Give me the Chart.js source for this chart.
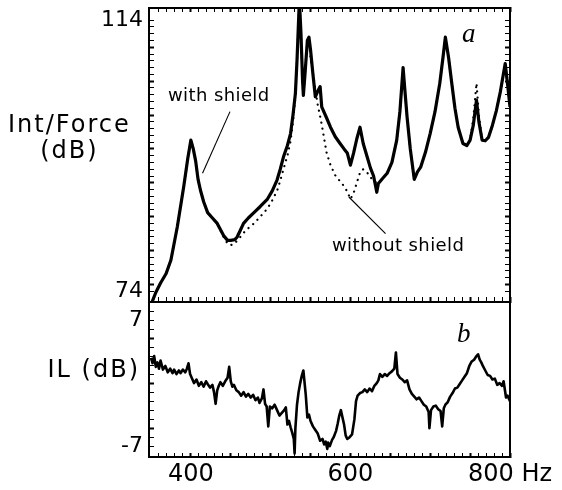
<!DOCTYPE html>
<html>
<head>
<meta charset="utf-8">
<script src="https://cdn.jsdelivr.net/npm/chart.js@4.4.1/dist/chart.umd.min.js"></script>
<style>
  body { margin: 0; background: #fff; }
  #wrap { position: relative; width: 562px; height: 490px; overflow: hidden; font-family: "DejaVu Sans", sans-serif; color: #000; }
  #wrap canvas { position: absolute; left: 0; top: 0; }
  .lbl { position: absolute; white-space: nowrap; line-height: 1; }
  .ttl { font-size: 24px; letter-spacing: 2px; line-height: 26px; text-align: center; }
  .note { font-size: 18px; letter-spacing: 0.4px; }
  .tag { font-family: "Liberation Serif", serif; font-style: italic; font-size: 27px; }
</style>
</head>
<body>
<div id="wrap">
  <canvas id="chart-a" width="562" height="310"></canvas>
  <canvas id="chart-b" width="562" height="490"></canvas>
  <div class="lbl ttl" style="left:8px; top:111px;">Int/Force<br>(dB)</div>
  <div class="lbl ttl" style="right:422px; top:356px;">IL (dB)</div>
  <div class="lbl note" style="left:168px; top:86px;">with shield</div>
  <div class="lbl note" style="left:332px; top:236px;">without shield</div>
  <div class="lbl tag" style="left:462px; top:20px;">a</div>
  <div class="lbl tag" style="left:457px; top:320px;">b</div>
</div>
<script>
// ── Data ───────────────────────────────────────────
const freqA = [350, 356, 362, 369, 375, 383, 391, 396, 400, 403, 406, 409, 412, 416, 421, 427, 433, 441, 446, 450,
  455, 458, 462, 466, 472, 479, 487, 496, 502, 508, 512, 516, 521, 525, 528, 531, 533, 534, 536, 538,
  540, 541, 543, 546, 548, 550, 553, 556, 559, 562, 564, 570, 575, 581, 587, 592, 596, 600, 604, 608,
  612, 616, 621, 625, 629, 633, 635, 640, 646, 652, 658, 662, 666, 668, 671, 675, 680, 684, 688, 694,
  700, 706, 712, 716, 719, 723, 727, 731, 735, 741, 746, 750, 754, 758, 761, 765, 769, 773, 778, 783,
  788, 794, 797, 800];

const withShield = [72.0, 73.8, 75.2, 76.6, 78.6, 83.5, 89.4, 93.5, 96.3, 95.0, 93.2, 90.5, 88.9, 87.2, 85.6, 84.8, 84.0, 82.2, 81.5, 81.5,
  81.6, 82.0, 83.0, 84.0, 84.8, 85.6, 86.5, 87.6, 88.8, 90.4, 92.0, 93.8, 95.5, 97.3, 100.0, 103.2, 108.0, 111.0, 117.0, 112.0,
  105.0, 102.9, 106.0, 111.0, 111.5, 109.6, 106.0, 102.7, 103.5, 104.2, 101.2, 99.6, 98.2, 96.8, 95.8, 95.0, 94.4, 92.6, 94.4, 96.5,
  98.2, 95.8, 93.8, 92.2, 91.0, 88.6, 89.9, 90.6, 91.4, 93.0, 96.3, 100.5, 107.0, 104.0, 99.7, 95.0, 90.5, 91.6, 92.3, 94.5,
  97.3, 100.5, 104.7, 108.5, 111.5, 108.5, 104.7, 101.0, 98.2, 95.8, 95.5, 96.3, 98.5, 102.2, 99.0, 96.3, 96.2, 96.7, 98.5, 100.7,
  103.5, 107.6, 104.5, 101.2];

const withoutShield = [72.0, 73.8, 75.2, 76.6, 78.6, 83.5, 89.4, 93.5, 96.3, 95.0, 93.2, 90.5, 88.9, 87.2, 85.6, 84.8, 84.0, 82.0, 81.0, 80.8,
  81.0, 81.5, 82.0, 82.6, 83.3, 84.0, 85.0, 86.2, 87.4, 88.8, 90.3, 92.0, 94.0, 96.2, 99.0, 102.8, 108.0, 111.0, 117.0, 112.0,
  105.0, 102.9, 106.0, 111.0, 111.0, 108.5, 106.2, 103.8, 101.5, 99.8, 98.6, 94.5, 92.6, 91.1, 90.2, 89.5, 88.7, 87.6, 88.5, 90.0,
  91.5, 92.0, 91.5, 90.8, 90.4, 89.9, 89.9, 90.6, 91.4, 93.0, 96.3, 100.5, 107.0, 104.0, 99.7, 95.0, 90.5, 91.6, 92.3, 94.5,
  97.3, 100.5, 104.7, 108.5, 111.5, 108.5, 104.7, 101.0, 98.2, 95.8, 95.5, 96.3, 99.5, 104.7, 100.0, 96.3, 96.2, 96.7, 98.5, 100.7,
  103.5, 107.6, 104.5, 101.2];

const freqB = [350, 352, 354, 356, 358, 360, 362, 365, 368, 371, 374, 377, 379, 382, 385, 387, 390, 393, 395, 397,
  399, 401, 404, 407, 410, 413, 416, 419, 421, 424, 427, 429, 431, 433, 435, 437, 440, 443, 446, 448,
  450, 452, 454, 457, 460, 463, 466, 469, 472, 475, 478, 481, 484, 486, 489, 491, 493, 495, 497, 499,
  502, 505, 508, 511, 514, 517, 519, 521, 523, 525, 527, 529, 530, 531, 533, 535, 537, 539, 541, 542,
  544, 546, 548, 550, 553, 556, 559, 562, 565, 567, 569, 571, 572, 574, 577, 579, 582, 584, 586, 588,
  590, 592, 594, 596, 599, 602, 605, 607, 609, 612, 615, 618, 621, 624, 627, 630, 633, 635, 637, 640,
  643, 646, 649, 652, 655, 657, 659, 662, 665, 668, 671, 674, 677, 680, 683, 686, 689, 692, 695, 698,
  699, 701, 704, 707, 710, 713, 715, 717, 719, 722, 725, 728, 731, 734, 737, 740, 743, 746, 749, 752,
  755, 758, 760, 762, 764, 766, 769, 772, 775, 778, 781, 784, 787, 790, 792, 795, 797, 800];

const insertionLoss = [2.8, 2.2, 3.0, 1.8, 2.3, 1.6, 2.5, 1.5, 1.9, 1.2, 1.6, 1.1, 1.5, 1.0, 1.4, 1.1, 1.5, 1.2, 1.6, 2.2,
  1.0, 0.6, 0.0, 0.4, -0.3, 0.1, -0.4, 0.2, -0.1, -0.5, -0.2, -1.0, -2.3, -0.8, -0.3, 0.1, -0.3, 0.2, 0.6, 1.8,
  0.2, -0.4, -0.2, -0.8, -1.0, -1.4, -1.0, -1.5, -1.2, -1.6, -1.3, -1.9, -1.6, -2.2, -1.7, -0.7, -2.3, -2.6, -4.8, -2.6,
  -2.8, -2.4, -3.0, -3.6, -3.3, -3.0, -2.7, -4.6, -4.2, -4.9, -5.5, -6.2, -7.8, -5.0, -2.4, -1.0, 0.0, 0.8, 1.4, 0.5,
  -1.3, -3.8, -3.5, -4.2, -4.8, -5.2, -5.6, -6.4, -6.2, -6.8, -6.5, -7.3, -6.6, -7.0, -6.3, -6.0, -5.3, -4.5, -3.6, -3.0,
  -3.8, -4.6, -5.8, -6.2, -6.0, -5.7, -4.0, -2.0, -1.4, -1.1, -1.0, -0.7, -1.0, -0.6, -0.9, -0.3, 0.0, 0.3, 1.0, 0.7,
  1.0, 0.8, 1.1, 1.3, 1.6, 3.4, 1.0, 0.6, 0.4, 0.1, 0.3, -0.7, -1.2, -1.5, -1.8, -1.6, -2.0, -2.4, -2.6, -3.2,
  -5.0, -3.0, -2.6, -2.5, -2.9, -3.1, -4.8, -2.8, -2.4, -2.1, -1.5, -1.1, -0.6, -0.5, -0.1, 0.3, 0.7, 1.1, 1.9, 2.4,
  2.6, 3.0, 3.2, 2.6, 2.3, 1.9, 1.4, 0.9, 0.8, 0.4, 0.5, -0.2, 0.0, -0.3, 0.2, -1.6, -1.4, -2.0];

// annotation leader lines (Hz, dB)
const leaderWithX    = [449, 414.6];
const leaderWithY    = [100.5, 91.4];
const leaderWithoutX = [598, 644];
const leaderWithoutY = [87.9, 82.5];

// tick labels
const yLabelsA   = [74, 114];
const yLabelsB   = [7, -7];
const xLabelVals = [400, 600, 800];
const xLabelText = ['400', '600', '800 Hz'];

// ── Shared helpers ─────────────────────────────────
const FONT = "'DejaVu Sans', sans-serif";
const pts = (xs, ys) => xs.map((x, i) => ({ x, y: ys[i] }));

// fixed box size, no auto padding for overflowing end labels
const fixW = w => s => { s.width = w; s.paddingTop = 0; s.paddingBottom = 0; };
const fixH = h => s => { s.height = h; s.paddingLeft = 0; s.paddingRight = 0; };

function frameAxis(extra) {
  return Object.assign({
    border: { display: true, color: '#000', width: 2 },
    grid: { drawOnChartArea: false, drawTicks: true, tickLength: -5, tickColor: '#000',
            tickWidth: c => (c.tick && c.tick.value % 5 === 0 ? 2 : 1) },
    ticks: { autoSkip: false, stepSize: 1, callback: () => '', color: '#000', font: { family: FONT, size: 22 } },
  }, extra);
}

const xRange = { min: 347.5, max: 800 };
const xTickW = c => (c.tick && c.tick.value % 50 === 0 ? 2 : 1);

// ── Panel a ────────────────────────────────────────
new Chart(document.getElementById('chart-a'), {
  type: 'line',
  data: {
    datasets: [
      { data: pts(freqA, withShield), borderColor: '#000', borderWidth: 3.2, pointRadius: 0, tension: 0,
        borderJoinStyle: 'round', xAxisID: 'x', yAxisID: 'y' },
      { data: pts(freqA, withoutShield), borderColor: '#000', borderWidth: 2.2, pointRadius: 0, tension: 0,
        borderDash: [0.1, 6], borderCapStyle: 'round', xAxisID: 'x', yAxisID: 'y' },
      { data: pts(leaderWithX, leaderWithY), borderColor: '#000', borderWidth: 1.1, pointRadius: 0, xAxisID: 'x', yAxisID: 'y' },
      { data: pts(leaderWithoutX, leaderWithoutY), borderColor: '#000', borderWidth: 1.1, pointRadius: 0, xAxisID: 'x', yAxisID: 'y' },
    ],
  },
  options: {
    responsive: false,
    animation: false,
    events: [],
    layout: { padding: { left: 0, top: 8, right: 52, bottom: 0 } },
    plugins: { legend: { display: false }, tooltip: { enabled: false } },
    scales: {
      x: frameAxis({ type: 'linear', position: 'bottom', ...xRange,
        grid: { drawOnChartArea: false, tickLength: -5, tickColor: '#000', tickWidth: xTickW },
        ticks: { autoSkip: false, stepSize: 10, callback: () => '' },
        afterFit: fixH(8) }),
      xTop: frameAxis({ type: 'linear', position: 'top', ...xRange,
        grid: { drawOnChartArea: false, tickLength: -4, tickColor: '#000', tickWidth: xTickW },
        ticks: { autoSkip: false, stepSize: 10, callback: () => '' },
        afterFit: fixH(0) }),
      y: frameAxis({ type: 'linear', position: 'left', min: 72.4, max: 115.8,
        ticks: { autoSkip: false, stepSize: 1, padding: 11, color: '#000', font: { family: FONT, size: 22 },
                 callback: v => (yLabelsA.includes(v) ? String(v) : '') },
        afterFit: fixW(149) }),
      yRight: frameAxis({ type: 'linear', position: 'right', min: 72.4, max: 115.8,
        afterFit: fixW(0) }),
    },
  },
});

// ── Panel b ────────────────────────────────────────
new Chart(document.getElementById('chart-b'), {
  type: 'line',
  data: {
    datasets: [
      { data: pts(freqB, insertionLoss), borderColor: '#000', borderWidth: 2.6, pointRadius: 0, tension: 0,
        borderJoinStyle: 'round', xAxisID: 'x', yAxisID: 'y' },
    ],
  },
  options: {
    responsive: false,
    animation: false,
    events: [],
    layout: { padding: { left: 0, top: 302, right: 52, bottom: 0 } },
    plugins: { legend: { display: false }, tooltip: { enabled: false } },
    scales: {
      x: frameAxis({ type: 'linear', position: 'bottom', ...xRange,
        grid: { drawOnChartArea: false, tickLength: -4, tickColor: '#000', tickWidth: xTickW },
        ticks: { autoSkip: false, maxRotation: 0, stepSize: 10, padding: 7, color: '#000', font: { family: FONT, size: 24 },
                 callback: v => { const i = xLabelVals.indexOf(v); return i >= 0 ? xLabelText[i] : ''; } },
        afterFit: fixH(33) }),
      y: frameAxis({ type: 'linear', position: 'left', min: -8.2, max: 9,
        ticks: { autoSkip: false, stepSize: 1, padding: 11, color: '#000', font: { family: FONT, size: 22 },
                 callback: v => (yLabelsB.includes(v) ? String(v) : '') },
        afterFit: fixW(149) }),
      yRight: { type: 'linear', position: 'right', min: -8.2, max: 9,
        border: { display: true, color: '#000', width: 2 },
        grid: { drawOnChartArea: false, drawTicks: false },
        ticks: { display: false },
        afterFit: fixW(0) },
    },
  },
});
</script>
</body>
</html>
